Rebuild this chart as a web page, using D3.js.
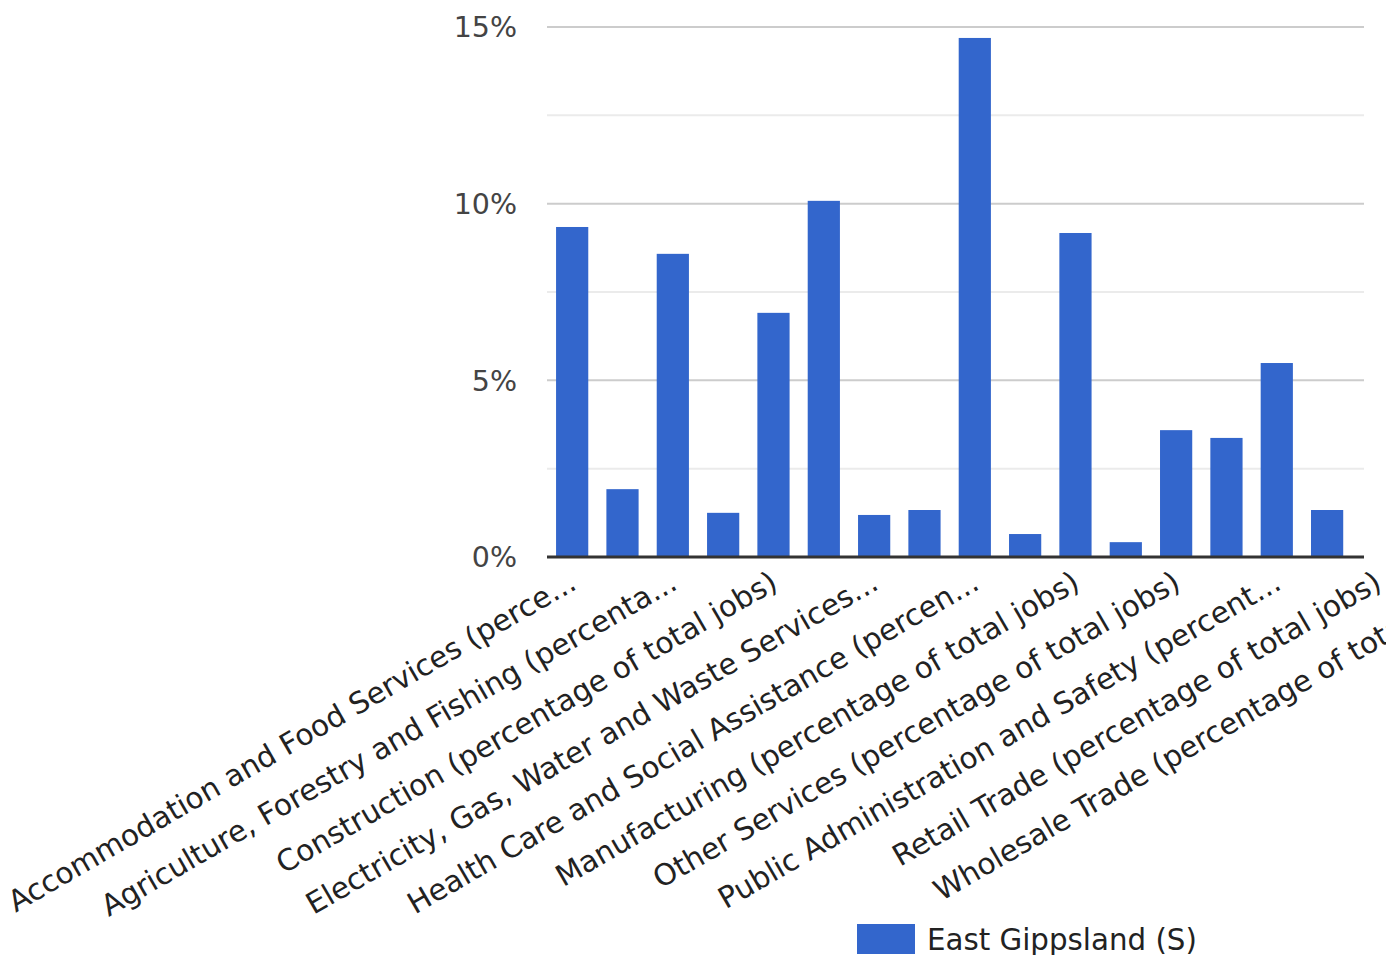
<!DOCTYPE html>
<html>
<head>
    <title>East Gippsland jobs by industry</title>
    <script src="https://d3js.org/d3.v7.min.js"></script>
    <style>
        body {
            margin: 0;
            padding: 0;
            background: #ffffff;
            font-family: 'DejaVu Sans', sans-serif;
        }
    </style>
</head>
<body>
    <div id="chart"></div>

    <script>
        // categories in chart order (alphabetical), label text as shown on the axis
        const categories = [
            "Accommodation and Food Services",
            "Administrative and Support Services",
            "Agriculture, Forestry and Fishing",
            "Arts and Recreation Services",
            "Construction",
            "Education and Training",
            "Electricity, Gas, Water and Waste Services",
            "Financial and Insurance Services",
            "Health Care and Social Assistance",
            "Information Media and Telecommunications",
            "Manufacturing",
            "Mining",
            "Other Services",
            "Professional, Scientific and Technical Services",
            "Public Administration and Safety",
            "Rental, Hiring and Real Estate Services",
            "Retail Trade",
            "Transport, Postal and Warehousing",
            "Wholesale Trade"
        ];
        const axisLabels = [
            "Accommodation and Food Services (perce...",
            "",
            "Agriculture, Forestry and Fishing (percenta...",
            "",
            "Construction (percentage of total jobs)",
            "",
            "Electricity, Gas, Water and Waste Services...",
            "",
            "Health Care and Social Assistance (percen...",
            "",
            "Manufacturing (percentage of total jobs)",
            "",
            "Other Services (percentage of total jobs)",
            "",
            "Public Administration and Safety (percent...",
            "",
            "Retail Trade (percentage of total jobs)",
            "",
            "Wholesale Trade (percentage of total jobs)"
        ];
        // percentage of total jobs; last three fall outside the visible plot
        const eastGippsland = [9.34, 1.92, 8.58, 1.25, 6.91, 10.08, 1.19, 1.33, 14.69,
                               0.65, 9.17, 0.42, 3.59, 3.37, 5.49, 1.33, null, null, null];
        const majorTicks = [0, 5, 10, 15];
        const minorTicks = [2.5, 7.5, 12.5];
        const seriesName = "East Gippsland (S)";

        const W = 1386, H = 955;
        const plotLeft = 547, plotRight = 1364, plotTop = 27, plotBottom = 557;
        const step = 50.33;

        const svg = d3.select("#chart")
            .append("svg")
                .attr("width", W)
                .attr("height", H);

        const x = d3.scaleBand()
            .domain(categories)
            .range([plotLeft, plotLeft + step * categories.length])
            .paddingInner(0.36)
            .paddingOuter(0.18);

        const y = d3.scaleLinear()
            .domain([0, 15])
            .range([plotBottom, plotTop]);

        svg.append("clipPath")
            .attr("id", "plotclip")
            .append("rect")
                .attr("x", plotLeft)
                .attr("y", 0)
                .attr("width", plotRight - plotLeft)
                .attr("height", plotBottom + 5);

        const plot = svg.append("g").attr("clip-path", "url(#plotclip)");

        // gridlines
        plot.selectAll(".minor")
            .data(minorTicks)
            .enter().append("line")
            .attr("x1", plotLeft).attr("x2", plotLeft + step * categories.length)
            .attr("y1", d => y(d)).attr("y2", d => y(d))
            .style("stroke", "#ebebeb")
            .style("stroke-width", 2);

        plot.selectAll(".major")
            .data(majorTicks.slice(1))
            .enter().append("line")
            .attr("x1", plotLeft).attr("x2", plotLeft + step * categories.length)
            .attr("y1", d => y(d)).attr("y2", d => y(d))
            .style("stroke", "#cccccc")
            .style("stroke-width", 2);

        // bars
        plot.selectAll(".bar")
            .data(categories.map((c, i) => ({cat: c, v: eastGippsland[i]})).filter(d => d.v != null))
            .enter().append("rect")
            .attr("x", d => x(d.cat))
            .attr("width", x.bandwidth())
            .attr("y", d => y(d.v))
            .attr("height", d => y(0) - y(d.v))
            .style("fill", "#3366cc");

        // baseline
        plot.append("line")
            .attr("x1", plotLeft).attr("x2", plotLeft + step * categories.length)
            .attr("y1", y(0)).attr("y2", y(0))
            .style("stroke", "#333333")
            .style("stroke-width", 3);

        // y tick labels
        svg.selectAll(".ytick")
            .data(majorTicks)
            .enter().append("text")
            .attr("x", 517)
            .attr("y", d => y(d))
            .attr("dy", "0.36em")
            .attr("text-anchor", "end")
            .style("font-size", "28.5px")
            .style("fill", "#444444")
            .text(d => d + "%");

        // slanted category labels
        svg.selectAll(".xlabel")
            .data(categories.map((c, i) => ({cat: c, label: axisLabels[i]})).filter(d => d.label))
            .enter().append("text")
            .attr("transform", d => "translate(" + (x(d.cat) + x.bandwidth() / 2 + 6) + "," + (plotBottom + 31) + ") rotate(-30)")
            .attr("text-anchor", "end")
            .style("font-size", "29.5px")
            .style("fill", "#222222")
            .text(d => d.label);

        // legend
        const legend = svg.append("g").attr("transform", "translate(857,924)");
        legend.append("rect")
            .attr("width", 58)
            .attr("height", 30)
            .style("fill", "#3366cc");
        legend.append("text")
            .attr("x", 70)
            .attr("y", 15)
            .attr("dy", "0.36em")
            .style("font-size", "29.3px")
            .style("fill", "#222222")
            .text(seriesName);
    </script>
</body>
</html>
